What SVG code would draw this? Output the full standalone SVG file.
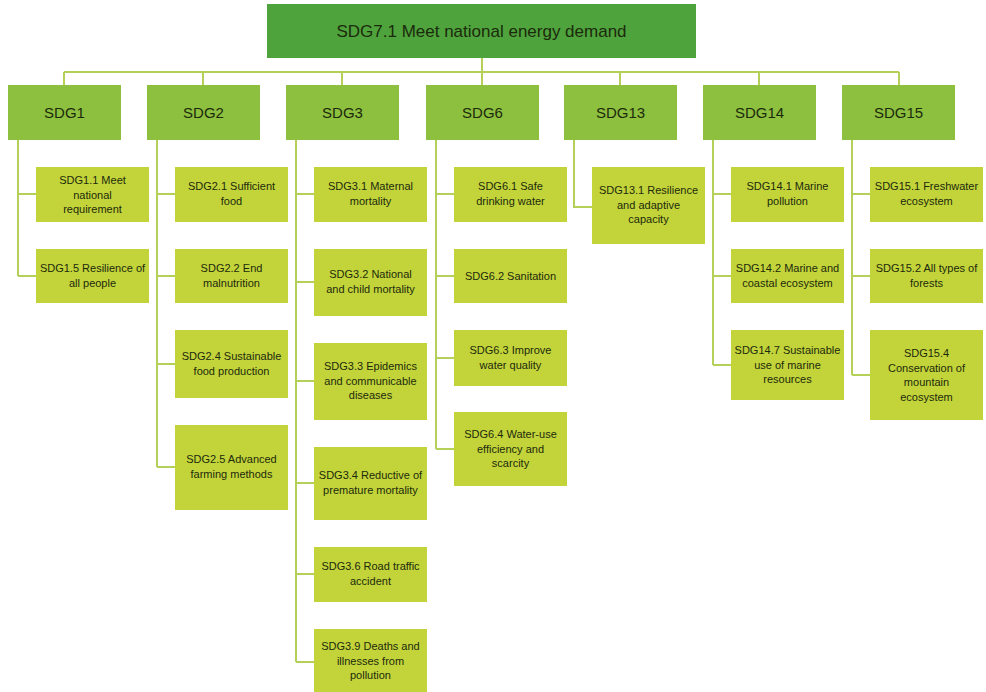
<svg xmlns="http://www.w3.org/2000/svg" width="986" height="692" viewBox="0 0 986 692">
<style>
.top{fill:#4ea33c}
.l2{fill:#8dc03f}
.l3{fill:#c3d43b}
.ln{stroke:#b5d058;stroke-width:2;fill:none}
text{font-family:"Liberation Sans",Arial,sans-serif;fill:#1c2a0c;text-anchor:middle}
.t1{font-size:17px}
.t2{font-size:15px}
.t3{font-size:11px}
</style>
<rect width="986" height="692" fill="#ffffff"/>
<g id="connectors">
<path class="ln" d="M482 58V72M64 72H899M64 72V85M203 72V85M342 72V85M482 72V85M620 72V85M759 72V85M899 72V85"/>
<path class="ln" d="M18 140V276M18 194H36M18 276H36"/>
<path class="ln" d="M157 140V467M157 194H175M157 276H175M157 364H175M157 467H175"/>
<path class="ln" d="M296 140V662M296 194H314M296 282H314M296 381H314M296 483H314M296 574H314M296 662H314"/>
<path class="ln" d="M436 140V449M436 194H454M436 276H454M436 358H454M436 449H454"/>
<path class="ln" d="M574 140V207H592"/>
<path class="ln" d="M713 140V365M713 194H731M713 276H731M713 365H731"/>
<path class="ln" d="M852 140V375M852 194H870M852 276H870M852 375H870"/>
</g>
<g id="sdg7_1"><rect class="top" x="267" y="4" width="429" height="54"/><text class="t1" x="481.5" y="37">SDG7.1 Meet national energy demand</text></g>
<g id="sdg1"><rect class="l2" x="8" y="85" width="113" height="55"/><text class="t2" x="64.5" y="118">SDG1</text></g>
<g id="sdg2"><rect class="l2" x="147" y="85" width="113" height="55"/><text class="t2" x="203.5" y="118">SDG2</text></g>
<g id="sdg3"><rect class="l2" x="286" y="85" width="113" height="55"/><text class="t2" x="342.5" y="118">SDG3</text></g>
<g id="sdg6"><rect class="l2" x="426" y="85" width="113" height="55"/><text class="t2" x="482.5" y="118">SDG6</text></g>
<g id="sdg13"><rect class="l2" x="564" y="85" width="113" height="55"/><text class="t2" x="620.5" y="118">SDG13</text></g>
<g id="sdg14"><rect class="l2" x="703" y="85" width="113" height="55"/><text class="t2" x="759.5" y="118">SDG14</text></g>
<g id="sdg15"><rect class="l2" x="842" y="85" width="113" height="55"/><text class="t2" x="898.5" y="118">SDG15</text></g>

<g id="sdg1_1"><rect class="l3" x="36" y="167" width="113" height="55"/><text class="t3" x="92.5" y="184">SDG1.1 Meet</text><text class="t3" x="92.5" y="198.5">national</text><text class="t3" x="92.5" y="213">requirement</text></g>
<g id="sdg1_5"><rect class="l3" x="36" y="249" width="113" height="54"/><text class="t3" x="92.5" y="272">SDG1.5 Resilience of</text><text class="t3" x="92.5" y="286.5">all people</text></g>

<g id="sdg2_1"><rect class="l3" x="175" y="167" width="113" height="55"/><text class="t3" x="231.5" y="190">SDG2.1 Sufficient</text><text class="t3" x="231.5" y="204.5">food</text></g>
<g id="sdg2_2"><rect class="l3" x="175" y="249" width="113" height="54"/><text class="t3" x="231.5" y="272">SDG2.2 End</text><text class="t3" x="231.5" y="286.5">malnutrition</text></g>
<g id="sdg2_4"><rect class="l3" x="175" y="330" width="113" height="68"/><text class="t3" x="231.5" y="360">SDG2.4 Sustainable</text><text class="t3" x="231.5" y="374.5">food production</text></g>
<g id="sdg2_5"><rect class="l3" x="175" y="425" width="113" height="85"/><text class="t3" x="231.5" y="463">SDG2.5 Advanced</text><text class="t3" x="231.5" y="477.5">farming methods</text></g>

<g id="sdg3_1"><rect class="l3" x="314" y="167" width="113" height="55"/><text class="t3" x="370.5" y="190">SDG3.1 Maternal</text><text class="t3" x="370.5" y="204.5">mortality</text></g>
<g id="sdg3_2"><rect class="l3" x="314" y="249" width="113" height="67"/><text class="t3" x="370.5" y="278">SDG3.2 National</text><text class="t3" x="370.5" y="292.5">and child mortality</text></g>
<g id="sdg3_3"><rect class="l3" x="314" y="343" width="113" height="77"/><text class="t3" x="370.5" y="370">SDG3.3 Epidemics</text><text class="t3" x="370.5" y="384.5">and communicable</text><text class="t3" x="370.5" y="399">diseases</text></g>
<g id="sdg3_4"><rect class="l3" x="314" y="447" width="113" height="73"/><text class="t3" x="370.5" y="479">SDG3.4 Reductive of</text><text class="t3" x="370.5" y="493.5">premature mortality</text></g>
<g id="sdg3_6"><rect class="l3" x="314" y="547" width="113" height="55"/><text class="t3" x="370.5" y="570">SDG3.6 Road traffic</text><text class="t3" x="370.5" y="584.5">accident</text></g>
<g id="sdg3_9"><rect class="l3" x="314" y="629" width="113" height="63"/><text class="t3" x="370.5" y="650">SDG3.9 Deaths and</text><text class="t3" x="370.5" y="664.5">illnesses from</text><text class="t3" x="370.5" y="679">pollution</text></g>

<g id="sdg6_1"><rect class="l3" x="454" y="167" width="113" height="55"/><text class="t3" x="510.5" y="190">SDG6.1 Safe</text><text class="t3" x="510.5" y="204.5">drinking water</text></g>
<g id="sdg6_2"><rect class="l3" x="454" y="249" width="113" height="54"/><text class="t3" x="510.5" y="279.5">SDG6.2 Sanitation</text></g>
<g id="sdg6_3"><rect class="l3" x="454" y="330" width="113" height="56"/><text class="t3" x="510.5" y="354">SDG6.3 Improve</text><text class="t3" x="510.5" y="368.5">water quality</text></g>
<g id="sdg6_4"><rect class="l3" x="454" y="412" width="113" height="74"/><text class="t3" x="510.5" y="438">SDG6.4 Water-use</text><text class="t3" x="510.5" y="452.5">efficiency and</text><text class="t3" x="510.5" y="467">scarcity</text></g>

<g id="sdg13_1"><rect class="l3" x="592" y="167" width="113" height="77"/><text class="t3" x="648.5" y="194">SDG13.1 Resilience</text><text class="t3" x="648.5" y="208.5">and adaptive</text><text class="t3" x="648.5" y="223">capacity</text></g>

<g id="sdg14_1"><rect class="l3" x="731" y="167" width="113" height="55"/><text class="t3" x="787.5" y="190">SDG14.1 Marine</text><text class="t3" x="787.5" y="204.5">pollution</text></g>
<g id="sdg14_2"><rect class="l3" x="731" y="249" width="113" height="54"/><text class="t3" x="787.5" y="272">SDG14.2 Marine and</text><text class="t3" x="787.5" y="286.5">coastal ecosystem</text></g>
<g id="sdg14_7"><rect class="l3" x="731" y="330" width="113" height="70"/><text class="t3" x="787.5" y="354">SDG14.7 Sustainable</text><text class="t3" x="787.5" y="368.5">use of marine</text><text class="t3" x="787.5" y="383">resources</text></g>

<g id="sdg15_1"><rect class="l3" x="870" y="167" width="113" height="55"/><text class="t3" x="926.5" y="190">SDG15.1 Freshwater</text><text class="t3" x="926.5" y="204.5">ecosystem</text></g>
<g id="sdg15_2"><rect class="l3" x="870" y="249" width="113" height="54"/><text class="t3" x="926.5" y="272">SDG15.2 All types of</text><text class="t3" x="926.5" y="286.5">forests</text></g>
<g id="sdg15_4"><rect class="l3" x="870" y="330" width="113" height="90"/><text class="t3" x="926.5" y="357">SDG15.4</text><text class="t3" x="926.5" y="371.5">Conservation of</text><text class="t3" x="926.5" y="386">mountain</text><text class="t3" x="926.5" y="400.5">ecosystem</text></g>
</svg>
